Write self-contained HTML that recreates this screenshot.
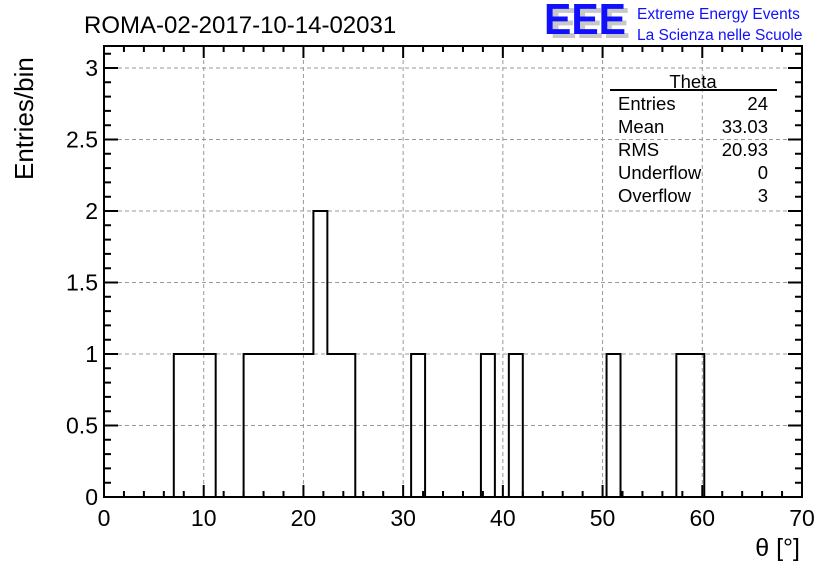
<!DOCTYPE html>
<html><head><meta charset="utf-8"><style>
body{margin:0;background:#fff;}
svg{display:block;font-family:"Liberation Sans",sans-serif;}
</style></head><body>
<svg id="c" width="836" height="572" viewBox="0 0 836 572">
<text x="84" y="33" font-size="24">ROMA-02-2017-10-14-02031</text>
<g>
<text x="550" y="38" font-size="44" fill="#c8c8c8" font-weight="bold" textLength="80" lengthAdjust="spacingAndGlyphs">EEE</text>
<text x="544" y="34" font-size="44" fill="#1010ff" font-weight="bold" textLength="82" lengthAdjust="spacingAndGlyphs">EEE</text>
<text x="637" y="19" font-size="15.5" fill="#1010ff">Extreme Energy Events</text>
<text x="637" y="40" font-size="15.5" fill="#1010ff">La Scienza nelle Scuole</text>
</g>
<g id="grid"></g>
<path id="hist" fill="none" stroke="#000" stroke-width="2"/>
<rect x="104" y="46" width="698" height="451" fill="none" stroke="#000" stroke-width="2"/>
<g id="ticks" stroke="#000" stroke-width="2"></g>
<g id="labels" font-size="23"></g>
<text x="800" y="556" font-size="25" text-anchor="end">θ [°]</text>
<text transform="translate(33,180) rotate(-90)" font-size="26">Entries/bin</text>
<g font-size="18.5">
<text x="693" y="88" text-anchor="middle">Theta</text>
<line x1="610" y1="90" x2="777" y2="90" stroke="#000" stroke-width="2"/>
<text x="618" y="110">Entries</text><text x="768" y="110" text-anchor="end">24</text>
<text x="618" y="133">Mean</text><text x="768" y="133" text-anchor="end">33.03</text>
<text x="618" y="156">RMS</text><text x="768" y="156" text-anchor="end">20.93</text>
<text x="618" y="179">Underflow</text><text x="768" y="179" text-anchor="end">0</text>
<text x="618" y="202">Overflow</text><text x="768" y="202" text-anchor="end">3</text>
</g>
</svg>
<script>
const binWidth = 1.4;
const binCounts = [0,0,0,0,0,1,1,1,0,0,1,1,1,1,1,2,1,1,0,0,0,0,1,0,0,0,0,1,0,1,0,0,0,0,0,0,1,0,0,0,0,1,1,0,0,0,0,0,0,0];
const xTicks = [0,10,20,30,40,50,60,70];
const yTicks = [0,0.5,1,1.5,2,2.5,3];
const yTickLabels = ["0","0.5","1","1.5","2","2.5","3"];
const X0=104,X1=802,Y0=497,YT=46;
const xs=v=>X0+(v/70)*(X1-X0);
const ys=v=>Y0-v*143;
const NS="http://www.w3.org/2000/svg";
function mk(tag,attrs,parent){const e=document.createElementNS(NS,tag);for(const k in attrs)e.setAttribute(k,attrs[k]);parent.appendChild(e);return e;}
const grid=document.getElementById('grid'),ticks=document.getElementById('ticks'),labels=document.getElementById('labels');
xTicks.forEach(v=>{
  if(v>0&&v<70){const l=mk('line',{x1:xs(v),x2:xs(v),y1:YT,y2:Y0,stroke:'#999','stroke-dasharray':'4,3'},grid);
  
  }
  const t=mk('text',{x:xs(v),y:Y0+29,'text-anchor':'middle'},labels);t.textContent=v;
  
  
});
yTicks.forEach((v,i)=>{
  if(v>0){const l=mk('line',{x1:X0,x2:X1,y1:ys(v),y2:ys(v),stroke:'#999','stroke-dasharray':'4,3'},grid);
  
  }
  const t=mk('text',{x:X0-6,y:ys(v)+8,'text-anchor':'end'},labels);t.textContent=yTickLabels[i];
  
  
});
let d='';
for(let v=0;v<=70;v+=2){const L=(v%10===0)?12:6;d+=`M${xs(v)},${Y0}v${-L}M${xs(v)},${YT}v${L}`;}
for(let k=0;k<=31;k++){const v=k/10;const L=(k%5===0)?14:7;d+=`M${X0},${ys(v)}h${L}M${X1},${ys(v)}h${-L}`;}
mk('path',{d:d},ticks);
let p=`M${xs(0)},${ys(0)}`;
binCounts.forEach((c,i)=>{p+=`L${xs(i*binWidth)},${ys(c)}L${xs((i+1)*binWidth)},${ys(c)}`;});
p+=`L${xs(70)},${ys(0)}`;
document.getElementById('hist').setAttribute('d',p);
</script>
</body></html>
